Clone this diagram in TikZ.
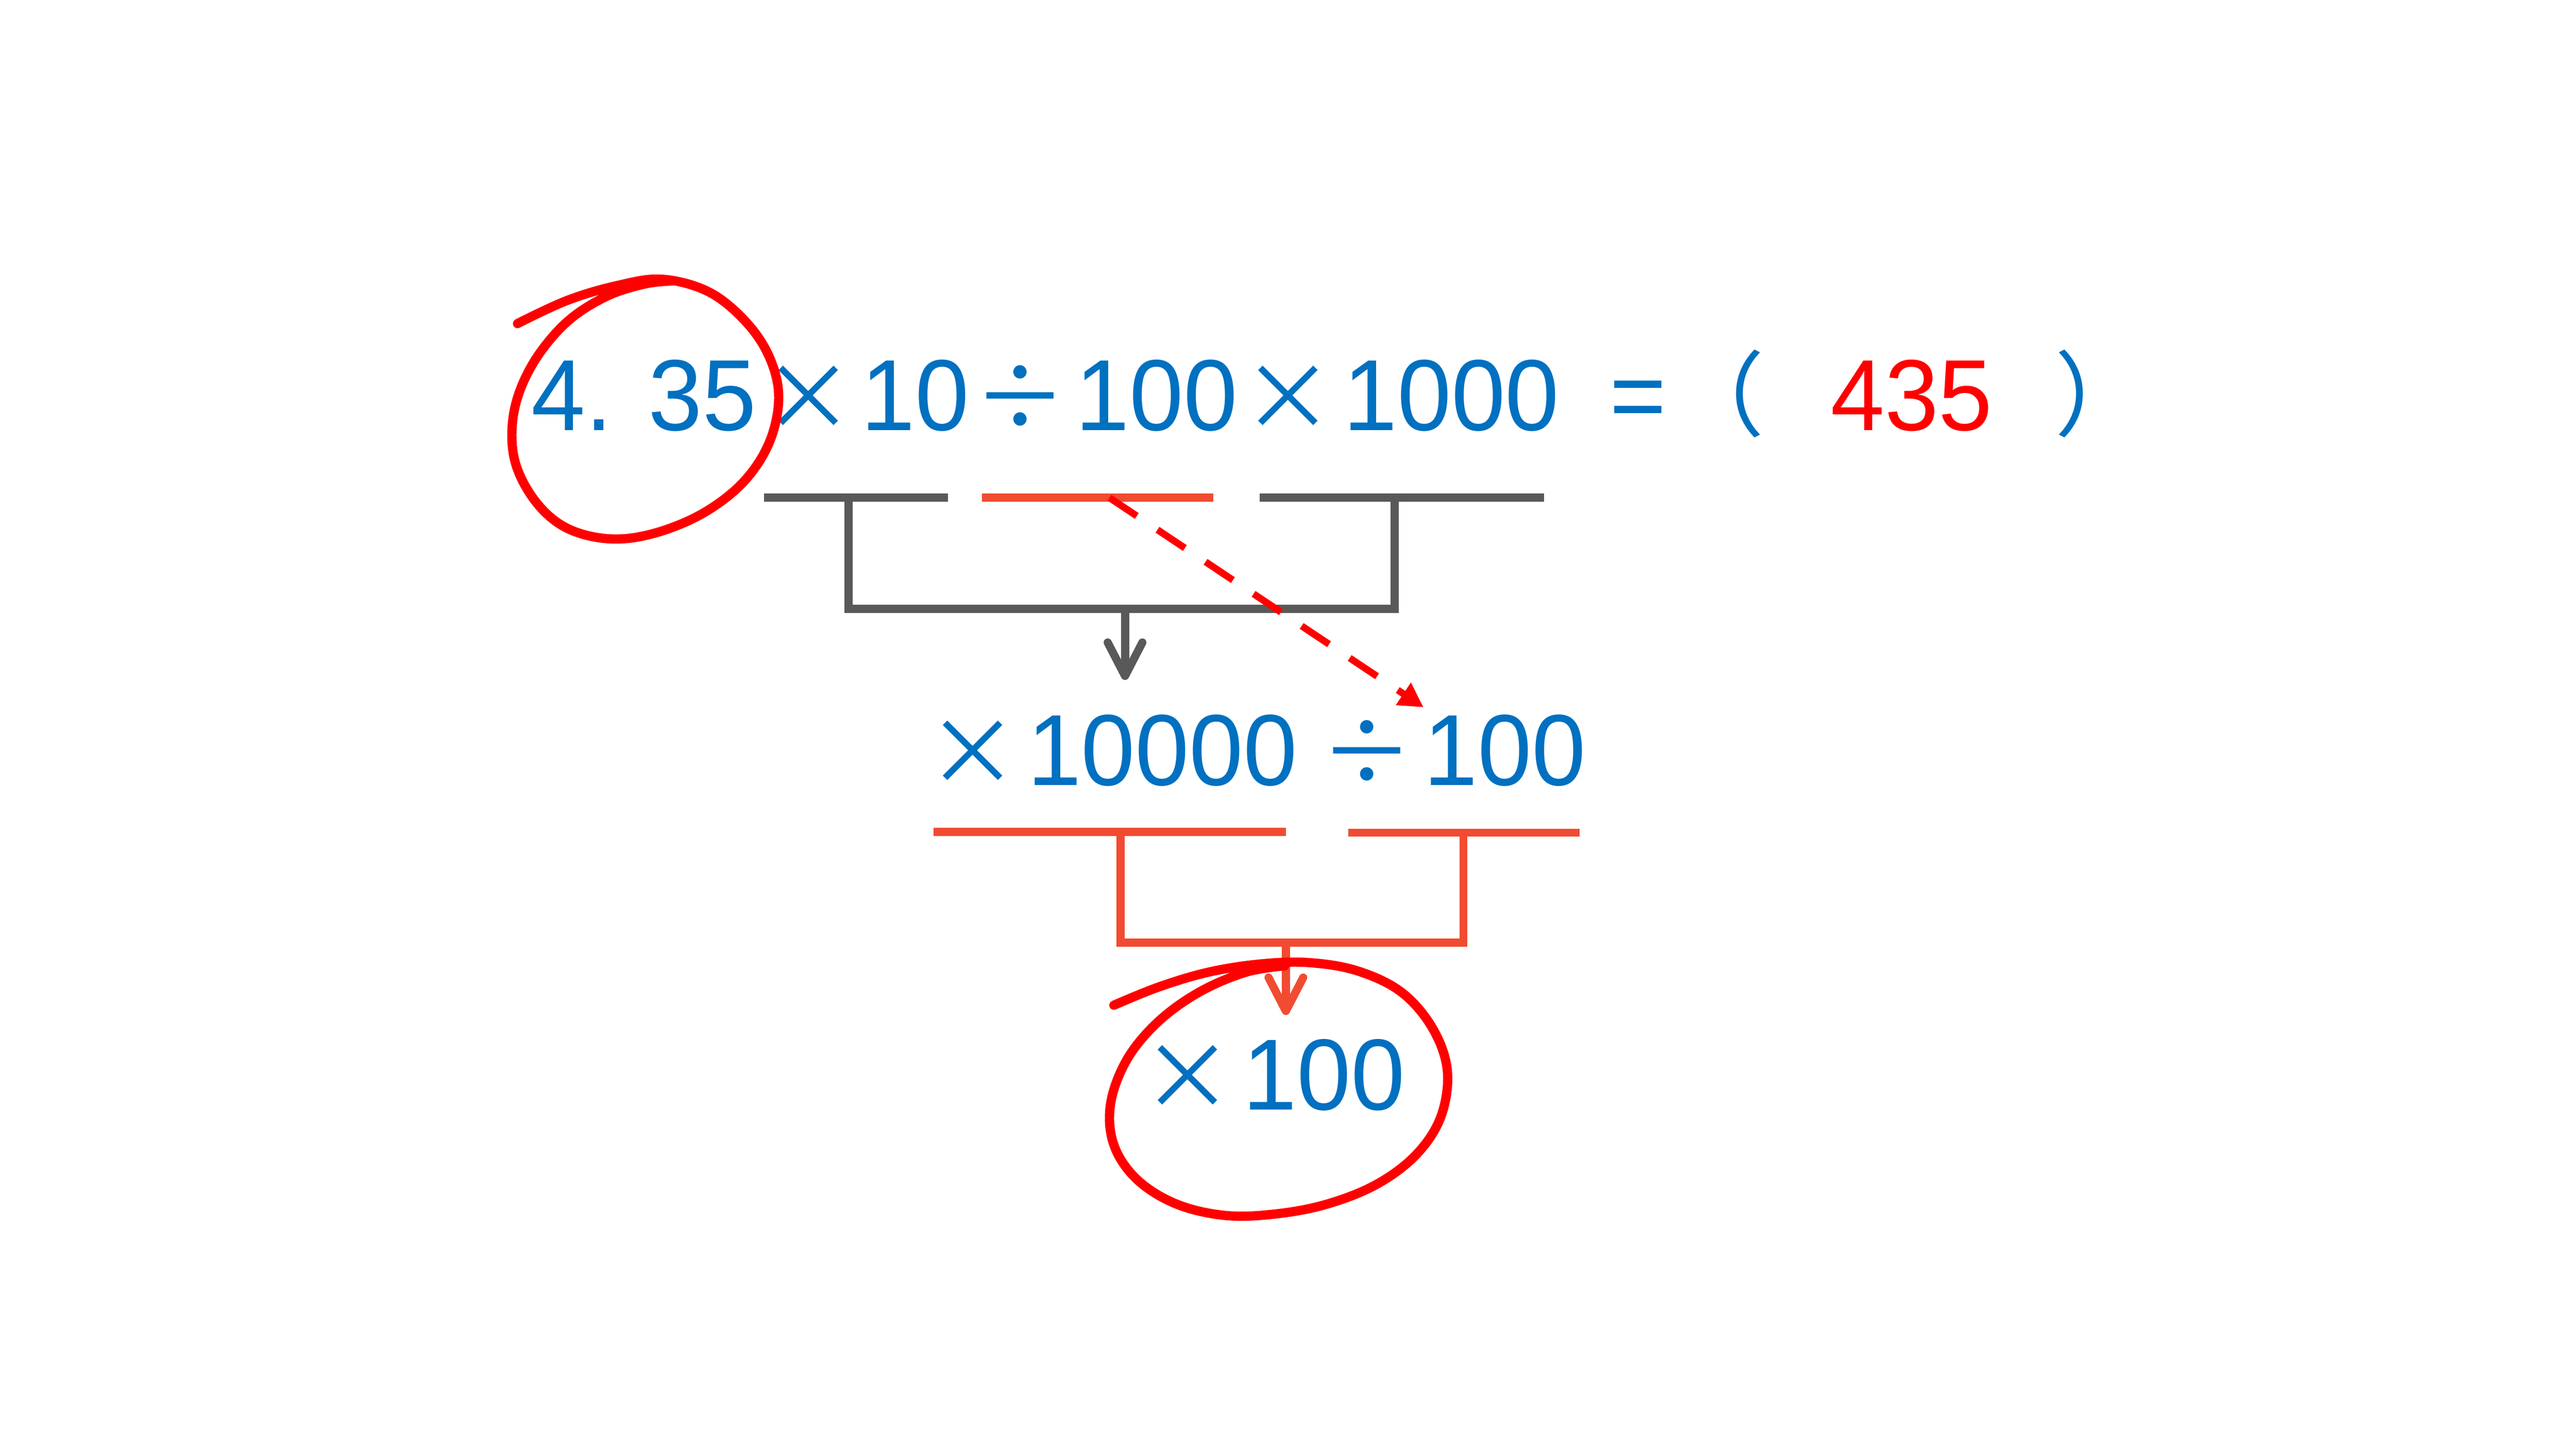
\documentclass[tikz,border=0pt]{standalone}
\usepackage{fontspec}
\setmainfont[FakeStretch=0.96]{Liberation Sans}
\newfontfamily\cjk{Noto Sans CJK SC}
\usepackage{xcolor}
\usepackage{tikz}
\usetikzlibrary{
	calc,
	arrows.meta,
	positioning
	}
\definecolor{bleu}{HTML}{0070C0}
\definecolor{gris}{HTML}{595959}
\definecolor{orangerouge}{HTML}{F14B31}
\tikzstyle{terme}=[text=bleu,inner sep=0pt,anchor=base,font=\fontsize{17.5}{20}\selectfont]
\tikzstyle{symbole}=[terme,font=\fontsize{16}{19}\selectfont\cjk]
\tikzstyle{trait-gris}=[draw=gris,line width=1.4pt]
\tikzstyle{trait-rouge}=[draw=orangerouge,line width=1.4pt]
\tikzstyle{fleche}=[-{Straight Barb[length=5.8pt,width=6pt,round]}]
\tikzstyle{cercle}=[draw=red,line width=1.6pt,line cap=round,line join=round]

\begin{document}
\begin{tikzpicture}[x=0.01cm,y=0.01cm]
\useasboundingbox (0,0) rectangle (1568,-882);

% premiere ligne
\node[terme] (t435) at (392,-262) {4. 35};
\node[symbole] (sx1) at (492,-262) {×};
\node[terme] (t10) at (557,-262) {10};
\node[symbole] (sd1) at (621,-262) {÷};
\node[terme] (t100) at (704,-262) {100};
\node[symbole] (sx2) at (784,-262) {×};
\node[terme] (t1000) at (883.5,-262) {1000};
\node[terme] (seq) at (997,-262) {=};
\node[symbole] (pg) at (1046,-261) {（};
\node[terme,text=red] (rep) at (1163.6,-262) {435};
\node[symbole] (pd) at (1279,-261) {）};

% deuxieme ligne
\node[symbole] (sx3) at (592,-478) {×};
\node[terme] (t10000) at (707.5,-478) {10000};
\node[symbole] (sd2) at (832,-478) {÷};
\node[terme] (t100b) at (916,-478) {100};

% troisieme ligne
\node[symbole] (sx4) at (723,-675.5) {×};
\node[terme] (t100c) at (806,-675.5) {100};

% soulignements
\coordinate (s1-a) at (465,-303); \coordinate (s1-b) at (577,-303);
\coordinate (s2-a) at (597.6,-303); \coordinate (s2-b) at (738.5,-303);
\coordinate (s3-a) at (766.6,-303); \coordinate (s3-b) at (939.8,-303);
\coordinate (s4-a) at (568.3,-506.4); \coordinate (s4-b) at (782.7,-506.4);
\coordinate (s5-a) at (820.6,-506.9); \coordinate (s5-b) at (961.5,-506.9);
\draw[trait-gris] (s1-a) -- (s1-b);
\draw[trait-rouge] (s2-a) -- (s2-b);
\draw[trait-gris] (s3-a) -- (s3-b);
\draw[trait-rouge] (s4-a) -- (s4-b);
\draw[trait-rouge] (s5-a) -- (s5-b);

% crochets
\coordinate (c1-a) at (516.6,-303); \coordinate (c1-b) at (849,-303);
\coordinate (c1-m) at (684.8,-370.7); \coordinate (c1-fin) at (684.8,-414);
\draw[trait-gris] (c1-a) |- (c1-m) -| (c1-b);
\draw[trait-gris,fleche] (c1-m) -- (c1-fin);
\coordinate (c2-a) at (682,-506.4); \coordinate (c2-b) at (890.8,-506.9);
\coordinate (c2-m) at (782.7,-574); \coordinate (c2-fin) at (782.7,-618);
\draw[trait-rouge] (c2-a) |- (c2-m) -| (c2-b);
\draw[trait-rouge,fleche] (c2-m) -- (c2-fin);

% fleche pointillee
\coordinate (p-deb) at (675.3,-303); \coordinate (p-fin) at (866.5,-430.6);
\draw[red,line width=1.2pt,dash pattern=on 5.7pt off 4.3pt,-{Triangle[length=4.2pt,width=4.4pt]}] (p-deb) -- (p-fin);

% cercles
\draw[cercle] plot[smooth,tension=0.6] coordinates {(315,-197) (345,-183) (375,-174) (403,-170) (432,-178) (455,-197) (469,-219) (474,-243) (468,-270) (452,-294) (427,-313) (397,-325) (370,-328) (344,-321) (325,-304) (313,-279) (313,-250) (324,-222) (344,-197) (368,-181) (392,-173) (410,-171)};
\draw[cercle] plot[smooth,tension=0.6] coordinates {(678,-612) (705,-601) (735,-592) (766,-587) (796,-586) (826,-591) (853,-604) (872,-626) (881,-652) (877,-680) (862,-703) (838,-721) (808,-733) (777,-739) (746,-740) (716,-733) (692,-718) (678,-697) (676,-672) (686,-645) (705,-622) (730,-604) (758,-592) (782,-588)};
\end{tikzpicture}
\end{document}
